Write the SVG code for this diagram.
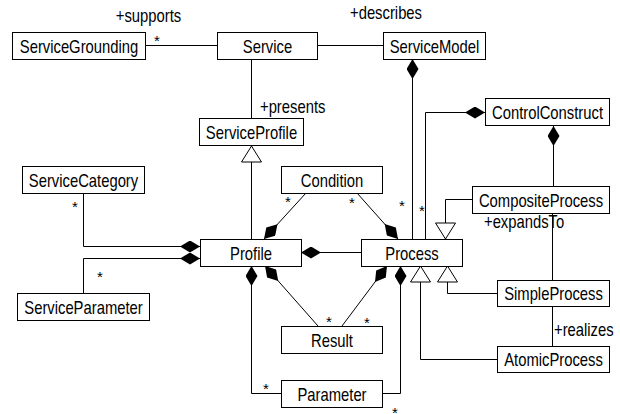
<svg xmlns="http://www.w3.org/2000/svg" width="620" height="414" viewBox="0 0 620 414">
  <style>
    .box { fill: #fff; stroke: #000; stroke-width: 1; }
    .t { font-family: "Liberation Sans", Arial, sans-serif; font-size: 18.5px; fill: #000; text-anchor: middle; }
    .l { font-family: "Liberation Sans", Arial, sans-serif; font-size: 18.5px; fill: #000; }
    .m { font-family: "Liberation Sans", Arial, sans-serif; font-size: 15px; fill: #000; text-anchor: middle; }
    .c { fill: none; stroke: #000; stroke-width: 1; }
    .comp { marker-end: url(#diamond); }
    .gen { marker-end: url(#triangle); }
  </style>
  <defs>
    <!-- filled diamond: composition end -->
    <marker id="diamond" viewBox="0 0 20 12" refX="20" refY="6" markerWidth="20" markerHeight="12" orient="auto" markerUnits="userSpaceOnUse">
      <path d="M0,6 L10,0 L20,6 L10,12 Z" fill="#000"/>
    </marker>
    <!-- hollow triangle: generalization end -->
    <marker id="triangle" viewBox="-1 -1 18 22" refX="16" refY="10" markerWidth="18" markerHeight="22" orient="auto" markerUnits="userSpaceOnUse">
      <path d="M0,0 L16,10 L0,20 Z" fill="#fff" stroke="#000" stroke-width="1"/>
    </marker>
  </defs>

  <rect width="620" height="414" fill="#fff"/>

  <g id="connectors">
    <!-- plain associations -->
    <line class="c" x1="145" y1="45.5" x2="217" y2="45.5"/>
    <line class="c" x1="317" y1="45.5" x2="383" y2="45.5"/>
    <line class="c" x1="251.5" y1="59" x2="251.5" y2="118"/>
    <line class="c" x1="552.5" y1="213" x2="552.5" y2="280"/>
    <line class="c" x1="552.5" y1="306" x2="552.5" y2="346"/>

    <!-- generalizations -->
    <path class="c gen" d="M251.5,239 L251.5,146"/>
    <path class="c gen" d="M472,199.5 L445.5,199.5 L445.5,239"/>
    <path class="c gen" d="M497,293.5 L447.5,293.5 L447.5,266"/>
    <path class="c gen" d="M497,359.5 L420.5,359.5 L420.5,266"/>

    <!-- compositions -->
    <path class="c comp" d="M412.5,239 L412.5,59"/>
    <path class="c comp" d="M425.5,239 L425.5,112.5 L485,112.5"/>
    <path class="c comp" d="M553.5,186 L553.5,126"/>
    <path class="c comp" d="M83.5,193 L83.5,246.5 L200,246.5"/>
    <path class="c comp" d="M83.5,293 L83.5,258.5 L200,258.5"/>
    <path class="c comp" d="M361,252.5 L301,252.5"/>
    <path class="c comp" d="M306,193 L264,239"/>
    <path class="c comp" d="M357,193 L398,239"/>
    <path class="c comp" d="M318,326 L265,266"/>
    <path class="c comp" d="M342,326 L387,266"/>
    <path class="c comp" d="M281,393.5 L251.5,393.5 L251.5,266"/>
    <path class="c comp" d="M382,393.5 L400.5,393.5 L400.5,266"/>

    <!-- role names -->
    <text class="l" transform="translate(148.5,22) scale(0.8,1)" text-anchor="middle">+supports</text>
    <text class="l" transform="translate(386,19) scale(0.8,1)" text-anchor="middle">+describes</text>
    <text class="l" transform="translate(260,113) scale(0.8,1)">+presents</text>
    <text class="l" transform="translate(484,228) scale(0.8,1)">+expandsTo</text>
    <text class="l" transform="translate(554,336) scale(0.8,1)">+realizes</text>

    <!-- multiplicities -->
    <text class="m" x="157" y="46">*</text>
    <text class="m" x="75" y="212">*</text>
    <text class="m" x="100" y="282">*</text>
    <text class="m" x="288" y="207">*</text>
    <text class="m" x="352" y="208">*</text>
    <text class="m" x="402" y="211">*</text>
    <text class="m" x="422" y="216">*</text>
    <text class="m" x="329" y="327">*</text>
    <text class="m" x="367" y="328">*</text>
    <text class="m" x="266" y="394">*</text>
    <text class="m" x="395" y="418">*</text>
  </g>

  <g id="ServiceGrounding">
    <rect class="box" x="12.5" y="32.5" width="133" height="27"/>
    <text class="t" transform="translate(79,53) scale(0.8,1)">ServiceGrounding</text>
  </g>
  <g id="Service">
    <rect class="box" x="217.5" y="32.5" width="100" height="27"/>
    <text class="t" transform="translate(267.5,53) scale(0.8,1)">Service</text>
  </g>
  <g id="ServiceModel">
    <rect class="box" x="383.5" y="32.5" width="102" height="27"/>
    <text class="t" transform="translate(434.5,53) scale(0.8,1)">ServiceModel</text>
  </g>
  <g id="ServiceProfile">
    <rect class="box" x="199.5" y="118.5" width="104" height="27"/>
    <text class="t" transform="translate(251.5,139) scale(0.8,1)">ServiceProfile</text>
  </g>
  <g id="ControlConstruct">
    <rect class="box" x="485.5" y="98.5" width="124" height="27"/>
    <text class="t" transform="translate(547.5,119) scale(0.8,1)">ControlConstruct</text>
  </g>
  <g id="ServiceCategory">
    <rect class="box" x="22.5" y="166.5" width="122" height="27"/>
    <text class="t" transform="translate(83.5,187) scale(0.8,1)">ServiceCategory</text>
  </g>
  <g id="Condition">
    <rect class="box" x="281.5" y="166.5" width="101" height="27"/>
    <text class="t" transform="translate(332,187) scale(0.8,1)">Condition</text>
  </g>
  <g id="CompositeProcess">
    <rect class="box" x="472.5" y="186.5" width="137" height="27"/>
    <text class="t" transform="translate(541,207) scale(0.8,1)">CompositeProcess</text>
  </g>
  <g id="Profile">
    <rect class="box" x="200.5" y="239.5" width="101" height="27"/>
    <text class="t" transform="translate(251,260) scale(0.8,1)">Profile</text>
  </g>
  <g id="Process">
    <rect class="box" x="361.5" y="239.5" width="101" height="27"/>
    <text class="t" transform="translate(412,260) scale(0.8,1)">Process</text>
  </g>
  <g id="ServiceParameter">
    <rect class="box" x="17.5" y="293.5" width="132" height="27"/>
    <text class="t" transform="translate(83.5,314) scale(0.8,1)">ServiceParameter</text>
  </g>
  <g id="SimpleProcess">
    <rect class="box" x="497.5" y="280.5" width="112" height="26"/>
    <text class="t" transform="translate(553.5,300) scale(0.8,1)">SimpleProcess</text>
  </g>
  <g id="Result">
    <rect class="box" x="281.5" y="326.5" width="101" height="27"/>
    <text class="t" transform="translate(332,347) scale(0.8,1)">Result</text>
  </g>
  <g id="AtomicProcess">
    <rect class="box" x="497.5" y="346.5" width="112" height="26"/>
    <text class="t" transform="translate(553.5,366) scale(0.8,1)">AtomicProcess</text>
  </g>
  <g id="Parameter">
    <rect class="box" x="281.5" y="380.5" width="101" height="27"/>
    <text class="t" transform="translate(332,401) scale(0.8,1)">Parameter</text>
  </g>
</svg>
